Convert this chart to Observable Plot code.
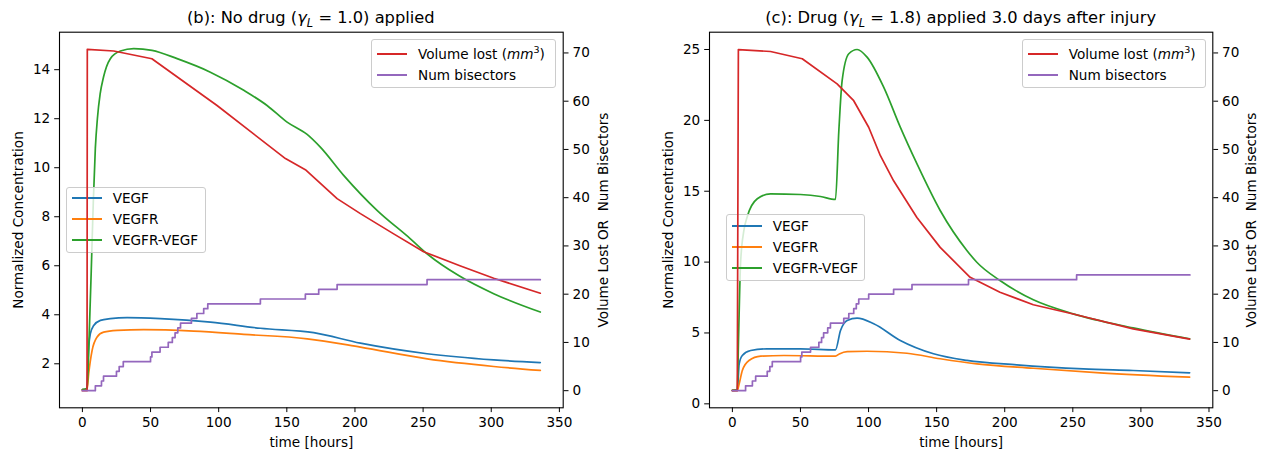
<!DOCTYPE html>
<html>
<head>
<meta charset="utf-8">
<script src="https://cdn.jsdelivr.net/npm/d3@7"></script>
<script src="https://cdn.jsdelivr.net/npm/@observablehq/plot@0.6"></script>
<style>
  html, body { margin: 0; padding: 0; background: #fff; }
  #fig { position: relative; width: 1266px; height: 453px; font-family: "DejaVu Sans", sans-serif; color: #000; }
  .panel { position: absolute; top: 0; width: 633px; height: 453px; }
  .layer { position: absolute; left: 0; top: 0; }
  .title { position: absolute; top: 8px; width: 600px; height: 20px; line-height: 20px; text-align: center; font-size: 16.3px; white-space: nowrap; }
  .legend { position: absolute; box-sizing: border-box; border: 1px solid #cccccc; border-radius: 3px; background: rgba(255,255,255,0.8); font-size: 13.6px; }
  .legend .row { position: absolute; left: 0; height: 20px; line-height: 20px; white-space: nowrap; }
  .legend .sw { position: absolute; left: 5px; top: 9px; width: 30px; height: 2px; }
  .legend .lab { position: absolute; left: 46px; top: 0; }
  sub, sup { font-size: 70%; line-height: 0; }
</style>
</head>
<body>
<div id="fig"></div>
<script>
// ---------------- data ----------------
const xTicks = [0, 50, 100, 150, 200, 250, 300, 350];
const rightTicks = [0, 10, 20, 30, 40, 50, 60, 70];
const bLeftTicks = [2, 4, 6, 8, 10, 12, 14];
const cLeftTicks = [0, 5, 10, 15, 20, 25];

const seriesNames = ["VEGF", "VEGFR", "VEGFR-VEGF"];
const rightNames = ["Volume lost", "Num bisectors"];

// Panel (b): no drug
const bVegfT = [0, 3.2, 4.6, 5.8, 8.3, 13.2, 20.5, 32.8, 57.2, 94, 130.6, 169.7, 204, 252.9, 301.8, 336];
const bVegf  = [0.95, 0.95, 2.68, 3.22, 3.56, 3.77, 3.84, 3.88, 3.84, 3.70, 3.45, 3.27, 2.84, 2.41, 2.16, 2.05];
const bVegfrT = [0, 3.4, 4.6, 7.1, 10.8, 15.6, 25.4, 45, 81.7, 118.4, 165, 204, 253, 301.8, 336];
const bVegfr  = [0.95, 0.95, 1.59, 2.54, 3.09, 3.29, 3.36, 3.39, 3.33, 3.2, 3.02, 2.68, 2.2, 1.89, 1.73];
const bComplexT = [0, 3.5, 5, 6.5, 8, 9.5, 11, 13, 15.5, 20.5, 27.9, 37.7, 51.1, 69.5, 93.9, 118.4, 135.5, 150.2, 164.9, 174.6, 191.7, 216.2, 240.7, 252.9, 276.1, 301.8, 336];
const bComplex  = [0.95, 1.0, 3.2, 5.8, 8.6, 10.8, 12.0, 13.0, 13.7, 14.45, 14.76, 14.86, 14.79, 14.45, 13.9, 13.16, 12.54, 11.86, 11.36, 10.84, 9.69, 8.26, 7.1, 6.49, 5.6, 4.86, 4.11];
const bVolT = [0, 3.4, 3.6, 23, 51, 98.8, 149, 163.6, 186.9, 204, 228.4, 250.4, 277, 301.8, 336];
const bVol  = [0, 0, 70.76, 70.4, 68.8, 59.1, 48.1, 45.8, 39.8, 36.7, 32.5, 28.8, 25.9, 23.3, 20.2];
const bBisT = [0, 9.5, 14, 15.5, 25, 27, 30, 50, 51, 57, 63, 66, 68, 70, 72, 80, 84, 89, 92, 130.6, 163.6, 173.4, 186.9, 252.9, 336];
const bBis  = [0, 1, 2, 3, 4, 5, 6, 7, 8, 9, 10, 11, 12, 13, 14, 15, 16, 17, 18, 19, 20, 21, 22, 23, 23];

// Panel (c): drug applied
const cVegfT = [0, 3.6, 5, 7.3, 13.4, 25.6, 50, 75.7, 79.4, 84.3, 91.6, 103.8, 123.3, 147.7, 172.2, 208.8, 257.7, 294.3, 335.8];
const cVegf  = [0.95, 0.95, 2.82, 3.41, 3.76, 3.88, 3.88, 3.81, 5.17, 5.88, 6.04, 5.65, 4.47, 3.53, 3.06, 2.75, 2.47, 2.35, 2.19];
const cVegfrT = [0, 3.6, 5, 7.3, 12.2, 20.8, 37.9, 75.7, 78.5, 84.3, 98.9, 128.2, 152.6, 179.5, 221, 270, 335.8];
const cVegfr  = [0.95, 0.95, 1.41, 2.35, 3.06, 3.36, 3.41, 3.36, 3.52, 3.69, 3.71, 3.57, 3.18, 2.82, 2.51, 2.19, 1.88];
const cComplexT = [0, 3.6, 4.5, 6, 8.4, 10.9, 18.3, 28, 50, 64.7, 75.7, 78.2, 80.6, 85.5, 91.6, 98.9, 111.1, 123.3, 135.5, 152.6, 172.2, 179.5, 196.5, 221, 250.3, 294.3, 335.8];
const cComplex  = [0.95, 1.0, 4.5, 9.9, 12.2, 13.2, 14.47, 14.82, 14.77, 14.63, 14.42, 19.3, 22.8, 24.7, 25.0, 24.46, 22.34, 19.52, 16.94, 13.64, 10.82, 9.99, 8.7, 7.34, 6.35, 5.36, 4.59];
const cVolT = [0, 3.6, 4.4, 28, 51.3, 76.9, 89.1, 100.1, 108.7, 118.4, 135.5, 152.6, 174.6, 196.5, 221, 250.3, 294.3, 335.8];
const cVol  = [0, 0, 70.7, 70.3, 68.8, 63.6, 60.1, 54.6, 48.7, 43.5, 35.9, 29.7, 23.5, 20.4, 17.8, 15.9, 12.8, 10.7];
const cBisT = [0, 9.7, 14.7, 17.1, 25.6, 27.5, 29.3, 50.1, 51, 57.4, 63.5, 65.5, 67, 70, 72, 81.8, 85.5, 89.1, 91, 92.8, 100.1, 118.4, 131.9, 173.4, 252.8, 336];
const cBis  = [0, 1, 2, 3, 4, 5, 6, 7, 8, 9, 10, 11, 12, 13, 14, 15, 16, 17, 18, 19, 20, 21, 22, 23, 24, 24];

const colors = {VEGF: "#1f77b4", VEGFR: "#ff7f0e", "VEGFR-VEGF": "#2ca02c", vol: "#d62728", bis: "#9467bd"};

// ---------------- build ----------------
const toRows = (ts, vs) => ts.map((t, i) => ({t, v: vs[i]}));
const fontStyle = {fontFamily: "DejaVu Sans", fontSize: "13.6px", color: "#000", background: "transparent", overflow: "visible"};
const xDomain = [-16.8, 352.8];
const MT = 31.7, MB = 45.7;

function panel(cfg) {
  const div = document.createElement("div");
  div.className = "panel";
  div.style.left = cfg.offset + "px";
  document.getElementById("fig").appendChild(div);

  const lw = 1.7;
  const bottom = Plot.plot({
    width: 633, height: 453,
    marginLeft: cfg.ml, marginRight: cfg.mr, marginTop: MT, marginBottom: MB,
    x: {domain: xDomain},
    y: {domain: cfg.leftDomain},
    style: fontStyle,
    marks: [
      Plot.axisX({ticks: xTicks, tickSize: 4.8, tickPadding: 4.5, label: null}),
      Plot.axisY({ticks: cfg.leftTicks, tickSize: 4.8, tickPadding: 4.5, label: null}),
      Plot.line(toRows(cfg.vegfT, cfg.vegf), {x: "t", y: "v", stroke: colors.VEGF, strokeWidth: lw, curve: "monotone-x"}),
      Plot.line(toRows(cfg.vegfrT, cfg.vegfr), {x: "t", y: "v", stroke: colors.VEGFR, strokeWidth: lw, curve: "monotone-x"}),
      Plot.line(toRows(cfg.cxT, cfg.cx), {x: "t", y: "v", stroke: colors["VEGFR-VEGF"], strokeWidth: lw, curve: "monotone-x"}),
      Plot.text(["Normalized Concentration"], {frameAnchor: "left", rotate: -90, dx: -40.7, textAnchor: "middle", lineAnchor: "middle", fill: "black"}),
      Plot.text(["time [hours]"], {frameAnchor: "bottom", dy: 35, textAnchor: "middle", lineAnchor: "middle", fill: "black"})
    ]
  });
  bottom.classList.add("layer");
  div.appendChild(bottom);

  // left-axis legend (under the right-axis layer)
  addLegend(div, cfg.leg1, [
    {c: colors.VEGF, h: "VEGF"},
    {c: colors.VEGFR, h: "VEGFR"},
    {c: colors["VEGFR-VEGF"], h: "VEGFR-VEGF"}
  ]);

  const top = Plot.plot({
    width: 633, height: 453,
    marginLeft: cfg.ml, marginRight: cfg.mr, marginTop: MT, marginBottom: MB,
    x: {domain: xDomain, axis: null},
    y: {domain: [-3.55, 74.3]},
    style: fontStyle,
    marks: [
      Plot.axisY({anchor: "right", ticks: rightTicks, tickSize: 4.8, tickPadding: 4.5, label: null}),
      Plot.line(toRows(cfg.volT, cfg.vol), {x: "t", y: "v", stroke: colors.vol, strokeWidth: lw, curve: "linear"}),
      Plot.line(toRows(cfg.bisT, cfg.bis), {x: "t", y: "v", stroke: colors.bis, strokeWidth: lw, curve: "step-after"}),
      Plot.frame({stroke: "black", strokeWidth: 1.1}),
      Plot.text(["Volume Lost OR  Num Bisectors"], {frameAnchor: "right", rotate: -90, dx: cfg.rdx, textAnchor: "middle", lineAnchor: "middle", fill: "black"})
    ]
  });
  top.classList.add("layer");
  div.appendChild(top);

  addLegend(div, cfg.leg2, [
    {c: colors.vol, h: "Volume lost (<i>mm</i><sup>3</sup>)"},
    {c: colors.bis, h: "Num bisectors"}
  ]);

  const t = document.createElement("div");
  t.className = "title";
  const cx = cfg.ml + (633 - cfg.ml - cfg.mr) / 2;
  t.style.left = (cx - 300) + "px";
  t.innerHTML = cfg.title;
  div.appendChild(t);
}

function addLegend(div, L, entries) {
  const box = document.createElement("div");
  box.className = "legend";
  Object.assign(box.style, {left: L.x + "px", top: L.y + "px", width: L.w + "px", height: L.h + "px"});
  entries.forEach((e, i) => {
    const row = document.createElement("div");
    row.className = "row";
    row.style.top = (L.first + i * L.gap - 10) + "px";
    row.innerHTML = `<div class="sw" style="background:${e.c}"></div><div class="lab">${e.h}</div>`;
    box.appendChild(row);
  });
  div.appendChild(box);
}

panel({
  offset: 0, ml: 59, mr: 70.3,
  leftDomain: [0.204, 15.53], leftTicks: bLeftTicks,
  vegfT: bVegfT, vegf: bVegf, vegfrT: bVegfrT, vegfr: bVegfr, cxT: bComplexT, cx: bComplex,
  volT: bVolT, vol: bVol, bisT: bBisT, bis: bBis,
  rdx: 40.6,
  leg1: {x: 65.7, y: 186.7, w: 140, h: 66, first: 10.5, gap: 20.8},
  leg2: {x: 371, y: 39.3, w: 184.7, h: 48.4, first: 13.5, gap: 21},
  title: "(b): No drug (<i>γ</i><sub><i>L</i></sub> = 1.0) applied"
});
panel({
  offset: 633, ml: 76, mr: 53.7,
  leftDomain: [-0.28, 26.22], leftTicks: cLeftTicks,
  vegfT: cVegfT, vegf: cVegf, vegfrT: cVegfrT, vegfr: cVegfr, cxT: cComplexT, cx: cComplex,
  volT: cVolT, vol: cVol, bisT: cBisT, bis: cBis,
  rdx: 38.5,
  leg1: {x: 92.7, y: 214.3, w: 139, h: 66.4, first: 10.8, gap: 20.8},
  leg2: {x: 388.7, y: 39.3, w: 184, h: 48.4, first: 13.5, gap: 21},
  title: "(c): Drug (<i>γ</i><sub><i>L</i></sub> = 1.8) applied 3.0 days after injury"
});
</script>
</body>
</html>
